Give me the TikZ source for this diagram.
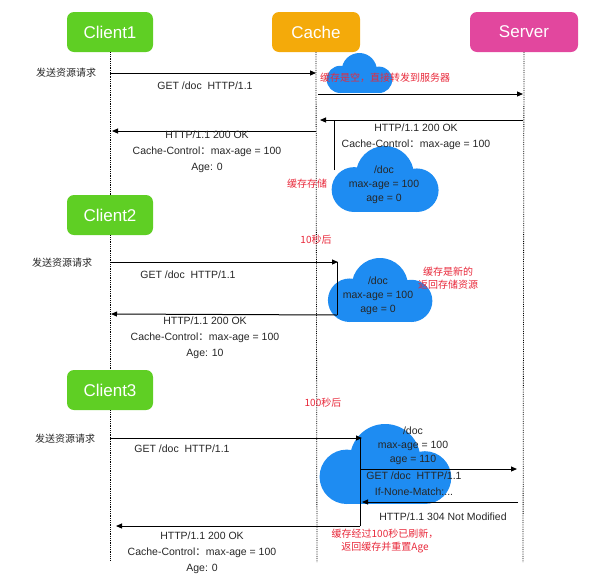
\documentclass[tikz,border=0pt]{standalone}
\usepackage{fontspec}
\setmainfont{Liberation Sans}
\newfontfamily\cjk{Noto Sans CJK SC}
\usetikzlibrary{arrows.meta}
\definecolor{cgreen}{HTML}{5FCF24}
\definecolor{corange}{HTML}{F4AA0A}
\definecolor{cpink}{HTML}{E2479E}
\definecolor{cblue}{HTML}{1E8CF2}
\definecolor{cred}{HTML}{E8283A}
\newcommand\mycloud[4]{% x y w h (top-left)
  \begin{scope}[shift={(#1,#2)}]
  \fill[cblue] (0.21*#3,0.66*#4) circle[radius=0.34*#4];
  \fill[cblue] (0.49*#3,0.44*#4) circle[radius=0.44*#4];
  \fill[cblue] (0.78*#3,0.67*#4) circle[radius=0.33*#4];
  \fill[cblue] (0.21*#3,0.5*#4) rectangle (0.78*#3,#4);
  \end{scope}}
\begin{document}
\begin{tikzpicture}[x=1pt,y=-1pt,
  box/.style={rounded corners=7pt,minimum height=40pt,text=white,font=\fontsize{17}{19}\selectfont,inner sep=0pt},
  life/.style={densely dotted,line width=0.8pt},
  msg/.style={-{Triangle[length=6pt,width=5pt]},line width=1pt},
  seg/.style={line width=1pt},
  lab/.style={font=\fontsize{10.5}{12}\selectfont,align=center,inner sep=0pt,text=black!85},
  note/.style={font=\cjk\fontsize{10}{12}\selectfont,text=cred,align=center,inner sep=0pt},
  cjkl/.style={font=\cjk\fontsize{10}{12}\selectfont,inner sep=0pt,text=black!85}]
\useasboundingbox (0,0) rectangle (600,582);
% boxes
\node[box,fill=cgreen,minimum width=86pt] (c1) at (110,32) {Client1};
\node[box,fill=corange,minimum width=88pt] (ca) at (316,32) {Cache};
\node[box,fill=cpink,minimum width=108pt] (sv) at (524,32) {Server};
\node[box,fill=cgreen,minimum width=86pt] (c2) at (110,215) {Client2};
\node[box,fill=cgreen,minimum width=86pt] (c3) at (110,390) {Client3};
\coordinate (c1e) at (110,560);
\coordinate (cae) at (317,562);
\coordinate (sve) at (523,562);
% lifelines
\draw[life] (c1.south) -- (c2.north);
\draw[life] (c2.south) -- (c3.north);
\draw[life] (c3.south) -- (c1e);
\draw[life] (ca.south) -- (cae);
\draw[life] (sv.south) -- (sve);
% clouds
\mycloud{326}{53}{68}{40}
\mycloud{331}{146}{110}{66}
\mycloud{327}{258}{108}{64}
\mycloud{318}{424}{137}{80}
% phase 1
\node[cjkl] (s1) at (66,73) {发送资源请求};
\coordinate (a1s) at (110,73); \coordinate (a1e) at (316,73);
\draw[msg] (a1s) -- (a1e);
\node[lab] (g1) at (205,86) {GET /doc\ \ HTTP/1.1};
\node[note,anchor=west] (n1) at (320,78) {缓存是空，直接转发到服务器};
\coordinate (a2s) at (318,94); \coordinate (a2e) at (523,94);
\draw[msg] (a2s) -- (a2e);
\coordinate (a3s) at (523,120); \coordinate (a3e) at (320,120); \coordinate (a3d) at (334,170);
\draw[msg] (a3s) -- (a3e);
\draw[seg] (a3d) -- (a3d |- a3s);
\node[lab] (r1) at (416,137) {HTTP/1.1 200 OK\\[4pt]Cache-Control{\cjk ：}max-age = 100};
\coordinate (a4s) at (316,131); \coordinate (a4e) at (112,131);
\draw[msg] (a4s) -- (a4e);
\node[lab] (r2) at (207,152) {HTTP/1.1 200 OK\\[4pt]Cache-Control{\cjk ：}max-age = 100\\[4pt]Age: 0};
\node[lab] (d1) at (384,185) {/doc\\[2pt]max-age = 100\\[2pt]age = 0};
\node[note] (n2) at (307,184) {缓存存储};
% phase 2
\node[note] (n3) at (316,240) {10秒后};
\node[cjkl] (s2) at (62,263) {发送资源请求};
\coordinate (b1s) at (110,262); \coordinate (b1e) at (338,262); \coordinate (b1d) at (337,315);
\draw[msg] (b1s) -- (b1e);
\draw[seg] (b1d) -- (b1d |- b1s);
\node[lab] (g2) at (188,275) {GET /doc\ \ HTTP/1.1};
\node[lab] (d2) at (378,296) {/doc\\[2pt]max-age = 100\\[2pt]age = 0};
\node[note] (n4) at (448,278) {缓存是新的\\[1pt]返回存储资源};
\coordinate (b2e) at (111,314);
\draw[msg] (b1d) -- (b2e);
\node[lab] (r3) at (205,338) {HTTP/1.1 200 OK\\[4pt]Cache-Control{\cjk ：}max-age = 100\\[4pt]Age: 10};
% phase 3
\node[note] (n5) at (323,403) {100秒后};
\node[cjkl] (s3) at (65,439) {发送资源请求};
\coordinate (e1s) at (110,438); \coordinate (e1e) at (362,438); \coordinate (e1d) at (360,526);
\draw[msg] (e1s) -- (e1e);
\draw[seg] (e1d) -- (e1d |- e1s);
\node[lab] (g3) at (182,449) {GET /doc\ \ HTTP/1.1};
\node[lab] (d3) at (413,446) {/doc\\[2pt]max-age = 100\\[2pt]age = 110};
\coordinate (e2s) at (360,469); \coordinate (e2e) at (517,469);
\draw[msg] (e2s) -- (e2e);
\node[lab] (g4) at (414,484) {GET /doc\ \ HTTP/1.1\\[4pt]If-None-Match:...};
\coordinate (e3s) at (518,502); \coordinate (e3e) at (362,502);
\draw[msg] (e3s) -- (e3e);
\node[lab] (r4) at (443,517) {HTTP/1.1 304 Not Modified};
\coordinate (e4e) at (116,526);
\draw[msg] (e1d) -- (e4e);
\node[lab] (r5) at (202,553) {HTTP/1.1 200 OK\\[4pt]Cache-Control{\cjk ：}max-age = 100\\[4pt]Age: 0};
\node[note] (n6) at (385,541) {缓存经过100秒已刷新，\\[1pt]返回缓存并重置Age};
\end{tikzpicture}
\end{document}
